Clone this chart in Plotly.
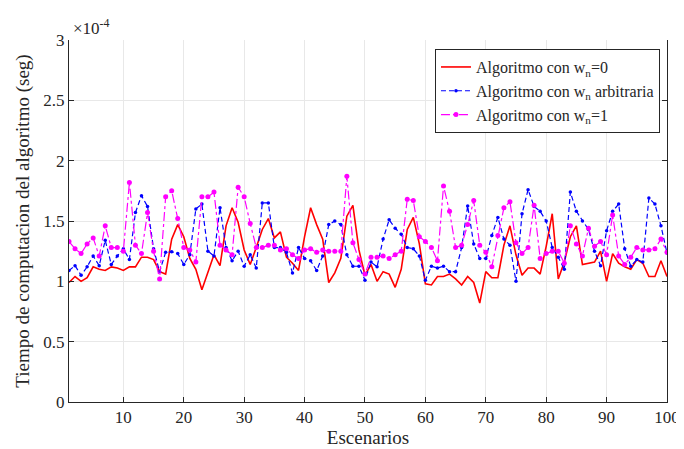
import plotly.graph_objects as go

escenarios = list(range(1, 101))

tiempo_w0 = [0.99, 1.04, 1.00, 1.03, 1.12, 1.10, 1.09, 1.12, 1.11, 1.09,
             1.12, 1.12, 1.20, 1.20, 1.18, 1.08, 1.06, 1.35, 1.47, 1.37,
             1.19, 1.10, 0.93, 1.08, 1.22, 1.13, 1.46, 1.61, 1.49, 1.26,
             1.14, 1.28, 1.43, 1.52, 1.36, 1.41, 1.20, 1.15, 1.09, 1.37,
             1.61, 1.47, 1.35, 0.99, 1.07, 1.19, 1.54, 1.63, 1.26, 1.05,
             1.14, 1.00, 1.08, 1.06, 0.95, 1.10, 1.43, 1.53, 1.31, 0.98,
             0.97, 1.04, 1.04, 1.06, 1.02, 0.97, 1.04, 0.99, 0.82, 1.08,
             1.03, 1.03, 1.30, 1.46, 1.22, 1.05, 1.11, 1.11, 1.06, 1.29,
             1.56, 1.02, 1.16, 1.37, 1.46, 1.14, 1.15, 1.16, 1.25, 1.00,
             1.23, 1.15, 1.12, 1.10, 1.18, 1.15, 1.04, 1.04, 1.17, 1.04]

tiempo_warb = [1.09, 1.13, 1.05, 1.12, 1.21, 1.13, 1.34, 1.14, 1.21, 1.27,
               1.18, 1.57, 1.71, 1.62, 1.27, 1.08, 1.24, 1.245, 1.23, 1.14,
               1.22, 1.60, 1.64, 1.25, 1.21, 1.61, 1.28, 1.17, 1.25, 1.125,
               1.22, 1.11, 1.65, 1.65, 1.28, 1.28, 1.24, 1.07, 1.28, 1.19,
               1.17, 1.09, 1.21, 1.47, 1.50, 1.47, 1.22, 1.125, 1.125, 1.01,
               1.16, 1.12, 1.35, 1.51, 1.44, 1.39, 1.28, 1.27, 1.21, 1.01,
               1.125, 1.11, 1.125, 1.08, 1.08, 1.28, 1.625, 1.31, 1.19, 1.19,
               1.38, 1.53, 1.35, 1.30, 1.00, 1.56, 1.76, 1.62, 1.58, 1.50,
               1.28, 1.20, 1.10, 1.74, 1.58, 1.50, 1.43, 1.25, 1.13, 1.42,
               1.58, 1.64, 1.27, 1.125, 1.18, 1.16, 1.69, 1.64, 1.46, 1.235]

tiempo_w1 = [1.33, 1.27, 1.23, 1.31, 1.36, 1.21, 1.46, 1.28, 1.28, 1.25,
             1.82, 1.30, 1.23, 1.57, 1.25, 1.02, 1.70, 1.75, 1.52, 1.28,
             1.26, 1.16, 1.70, 1.70, 1.74, 1.30, 1.26, 1.22, 1.78, 1.70,
             1.48, 1.28, 1.28, 1.30, 1.30, 1.26, 1.27, 1.22, 1.19, 1.26,
             1.27, 1.24, 1.26, 1.25, 1.25, 1.25, 1.87, 1.32, 1.18, 1.06,
             1.20, 1.20, 1.21, 1.19, 1.22, 1.25, 1.68, 1.67, 1.37, 1.33,
             1.28, 1.17, 1.79, 1.58, 1.28, 1.30, 1.47, 1.67, 1.30, 1.24,
             1.12, 1.38, 1.61, 1.66, 1.32, 1.23, 1.28, 1.63, 1.19, 1.23,
             1.25, 1.25, 1.15, 1.46, 1.31, 1.21, 1.44, 1.29, 1.33, 1.22,
             1.55, 1.21, 1.14, 1.20, 1.28, 1.26, 1.26, 1.27, 1.35, 1.24]

y_ticks = [0, 0.5, 1, 1.5, 2, 2.5, 3]
y_ticktext = ["0", "0.5", "1", "1.5", "2", "2.5", "3"]
x_ticks = [10, 20, 30, 40, 50, 60, 70, 80, 90, 100]

nombres = ["Algoritmo con w<sub>n</sub>=0",
           "Algoritmo con w<sub>n</sub> arbitraria",
           "Algoritmo con w<sub>n</sub>=1"]

FONT = "Liberation Serif"
TXT = "#262626"

fig = go.Figure()
fig.add_trace(go.Scatter(x=escenarios, y=tiempo_w0, mode="lines", name=nombres[0],
                         line=dict(color="#ff0000", width=1.6)))
fig.add_trace(go.Scatter(x=escenarios, y=tiempo_warb, mode="lines+markers", name=nombres[1],
                         line=dict(color="#0000ff", width=1.2, dash="5px,3px"),
                         marker=dict(color="#0000ff", size=3.5, symbol="circle")))
fig.add_trace(go.Scatter(x=escenarios, y=tiempo_w1, mode="lines+markers", name=nombres[2],
                         line=dict(color="#ff00ff", width=1.2, dash="dashdot"),
                         marker=dict(color="#ff00ff", size=5, symbol="circle")))

fig.update_layout(
    width=684, height=449,
    margin=dict(l=61, r=15, t=32, b=54),
    paper_bgcolor="white", plot_bgcolor="white",
    font=dict(family=FONT, color=TXT, size=17),
    showlegend=True,
    legend=dict(x=0.612, y=0.975, xanchor="left", yanchor="top",
                bgcolor="white", bordercolor="#262626", borderwidth=1,
                font=dict(family=FONT, size=16, color=TXT),
                tracegroupgap=0, itemwidth=30),
    xaxis=dict(range=[1, 100], tickvals=x_ticks, showgrid=True, gridcolor="#e8e8e8",
               gridwidth=1, zeroline=False, showline=True, linecolor="#262626",
               linewidth=1, ticks="inside", ticklen=5, tickcolor="#262626",
               mirror=False,
               title=dict(text="Escenarios", font=dict(family=FONT, size=19, color=TXT),
                          standoff=4),
               tickfont=dict(family=FONT, size=17, color=TXT)),
    yaxis=dict(range=[0, 3], tickvals=y_ticks, ticktext=y_ticktext, showgrid=True,
               gridcolor="#e8e8e8", gridwidth=1, zeroline=False, showline=True,
               linecolor="#262626", linewidth=1, ticks="inside", ticklen=5,
               tickcolor="#262626", mirror="ticks",
               title=dict(text="Tiempo de computacion del algoritmo (seg)",
                          font=dict(family=FONT, size=19, color=TXT), standoff=8),
               tickfont=dict(family=FONT, size=17, color=TXT)),
)

fig.add_annotation(xref="paper", yref="paper", x=0.0, y=1.0, xanchor="left",
                   yanchor="bottom", text="\u00d710<sup>-4</sup>", showarrow=False,
                   font=dict(family=FONT, size=17, color=TXT), xshift=2, yshift=0)

fig.write_html("out.html")
